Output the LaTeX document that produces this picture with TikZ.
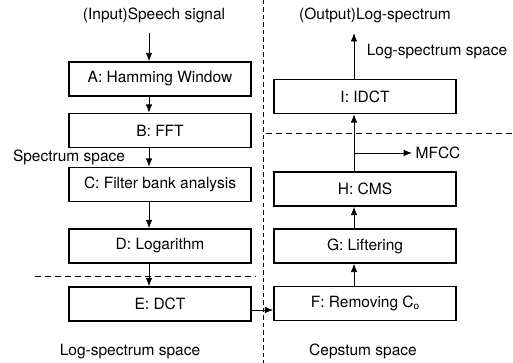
\documentclass[tikz,border=0pt]{standalone}
\usepackage{fontspec}
\setmainfont{TeX Gyre Heros}
\usetikzlibrary{arrows.meta}
\begin{document}
\begin{tikzpicture}[x=1pt,y=-1pt,
  font=\fontsize{15.5}{18}\selectfont,
  stage/.style={draw, line width=1.3pt, minimum width=182pt, minimum height=34pt, inner sep=0pt},
  flow/.style={line width=0.9pt, -{Latex[length=8.5pt,width=6.5pt]}},
  divider/.style={line width=0.9pt, dash pattern=on 6pt off 4pt},
  vdivider/.style={line width=1pt, dash pattern=on 4.5pt off 3pt}]
\useasboundingbox (0,0) rectangle (513,363);

% left column
\node[stage] (A) at (160,79) {A: Hamming Window};
\node[stage] (B) at (160,130.5) {B: FFT};
\node[stage] (C) at (160,184.5) {C: Filter bank analysis};
\node[stage] (D) at (160,246) {D: Logarithm};
\node[stage] (E) at (160,304) {E: DCT};

% right column
\node[stage] (I) at (365,96.5) {I: IDCT};
\node[stage] (H) at (365,189) {H: CMS};
\node[stage] (G) at (365,246) {G: Liftering};
\node[stage] (F) at (365,303.5) {F: Removing C\raisebox{-0.25ex}{\fontsize{10}{12}\selectfont o}};

% labels
\node (in) at (154,15) {(Input)Speech signal};
\node (out) at (375,15) {(Output)Log-spectrum};
\node (lss) at (437,52) {Log-spectrum space};
\node (ss) at (69,157) {Spectrum space};
\node (lsb) at (130,352) {Log-spectrum space};
\node (cs) at (363,351) {Cepstum space};
\node (mfcc) at (438,153) {MFCC};

% space dividers
\draw[vdivider] (263,0) -- (263,363);
\draw[divider] (35,276) -- (256,276);
\draw[divider] (266,133) -- (513,133);

% guide lines for the two flows
\coordinate (lx) at (149,0);
\coordinate (rx) at (354,0);
\coordinate (cross) at (0,310);
\coordinate (inS) at (149,33);
\coordinate (outE) at (354,33);

% left flow
\draw[flow] (inS) -- (A.north -| lx);
\draw[flow] (A.south -| lx) -- (B.north -| lx);
\draw[flow] (B.south -| lx) -- (C.north -| lx);
\draw[flow] (C.south -| lx) -- (D.north -| lx);
\draw[flow] (D.south -| lx) -- (E.north -| lx);

% across to the cepstrum side
\draw[flow] (E.east |- cross) -- (F.west |- cross);

% right flow
\draw[flow] (F.north -| rx) -- (G.south -| rx);
\draw[flow] (G.north -| rx) -- (H.south -| rx);
\draw[flow] (H.north -| rx) -- (I.south -| rx);
\draw[flow] (I.north -| rx) -- (outE);
\draw[flow] (rx |- mfcc) -- (mfcc.west);
\end{tikzpicture}
\end{document}
